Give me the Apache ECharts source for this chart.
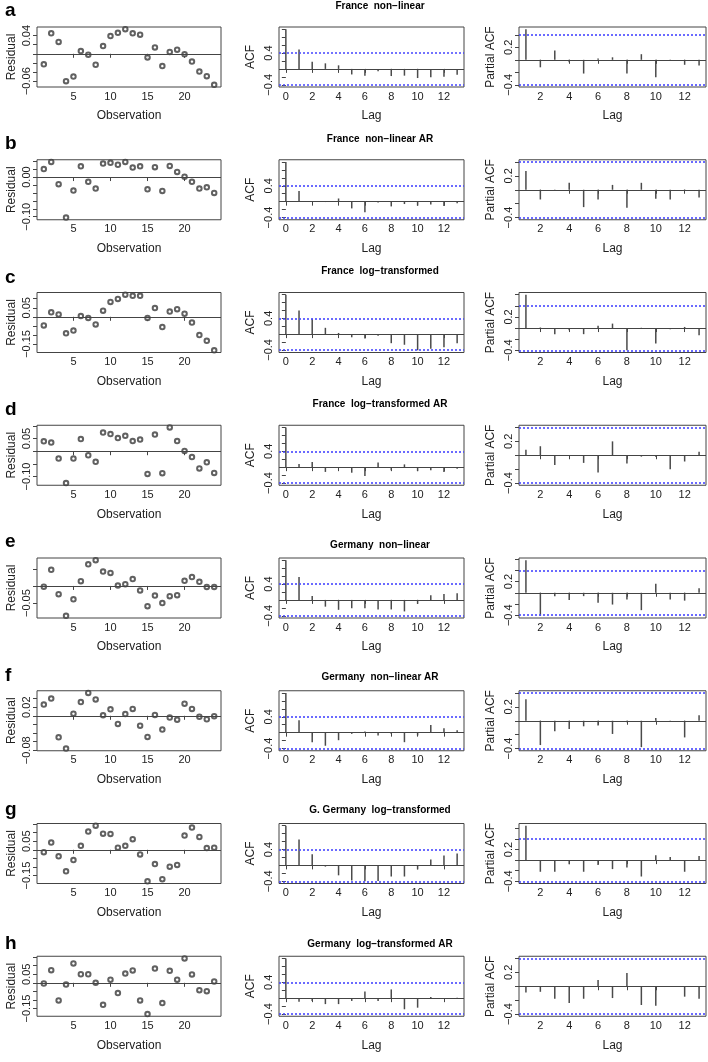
<!DOCTYPE html>
<html><head><meta charset="utf-8">
<script src="https://cdn.jsdelivr.net/npm/echarts@6/dist/echarts.min.js"></script>
<style>html,body{margin:0;padding:0;background:#fff}#c{width:708px;height:1062px}</style>
</head><body><div id="c"></div>
<script>
// ---------------- DATA ----------------
const panelLetters = ['a','b','c','d','e','f','g','h'];
const panelTitles = [
  'France  non\u2212linear',
  'France  non\u2212linear AR',
  'France  log\u2212transformed',
  'France  log\u2212transformed AR',
  'Germany  non\u2212linear',
  'Germany  non\u2212linear AR',
  'G. Germany  log\u2212transformed',
  'Germany  log\u2212transformed AR'
];
const observations = [1,2,3,4,5,6,7,8,9,10,11,12,13,14,15,16,17,18,19,20,21,22,23,24];
const acfLags  = [0,1,2,3,4,5,6,7,8,9,10,11,12,13];
const pacfLags = [1,2,3,4,5,6,7,8,9,10,11,12,13];

const resA = [-0.023,0.045,0.026,-0.060,-0.050,0.006,-0.002,-0.024,0.017,0.039,0.046,0.054,0.045,0.042,-0.008,0.014,-0.027,0.004,0.009,-0.001,-0.017,-0.039,-0.049,-0.068];
const resB = [0.020,0.038,-0.018,-0.102,-0.034,0.027,-0.012,-0.029,0.034,0.036,0.031,0.038,0.024,0.027,-0.031,0.025,-0.035,0.028,0.013,0.001,-0.012,-0.029,-0.026,-0.040];
const resC = [-0.048,0.025,0.013,-0.091,-0.076,0.004,-0.006,-0.042,0.034,0.082,0.099,0.122,0.116,0.116,-0.006,0.048,-0.057,0.029,0.042,0.017,-0.032,-0.101,-0.133,-0.185];
const resD = [0.039,0.034,-0.029,-0.126,-0.029,0.048,-0.016,-0.042,0.074,0.068,0.052,0.061,0.040,0.046,-0.090,0.066,-0.087,0.094,0.040,0.001,-0.023,-0.068,-0.044,-0.086];
const resE = [-0.002,0.047,-0.024,-0.087,-0.039,0.014,0.063,0.075,0.042,0.038,0.001,0.005,0.020,-0.013,-0.059,-0.028,-0.050,-0.030,-0.027,0.015,0.026,0.012,-0.003,-0.003];
const resF = [0.026,0.040,-0.050,-0.076,0.005,0.032,0.053,0.038,0.001,0.015,-0.019,0.004,0.016,-0.023,-0.049,0.002,-0.032,-0.004,-0.009,0.028,0.016,-0.002,-0.008,-0.001];
const resG = [-0.014,0.042,-0.038,-0.125,-0.060,0.023,0.106,0.140,0.094,0.092,0.012,0.023,0.062,-0.027,-0.183,-0.083,-0.171,-0.098,-0.088,0.083,0.129,0.075,0.010,0.012];
const resH = [-0.004,0.074,-0.103,-0.010,0.113,0.050,0.050,0.000,-0.128,0.018,-0.060,0.054,0.072,-0.103,-0.182,0.083,-0.118,0.070,0.018,0.142,0.049,-0.043,-0.049,0.008];

const acfA = [1,0.49,0.18,0.14,0.09,-0.14,-0.17,-0.06,-0.18,-0.17,-0.23,-0.21,-0.20,-0.15];
const acfB = [1,0.27,-0.01,-0.01,0.08,-0.17,-0.27,-0.02,-0.12,-0.06,-0.10,-0.07,-0.11,-0.04];
const acfC = [1,0.60,0.39,0.16,0.03,-0.08,-0.11,-0.04,-0.23,-0.27,-0.41,-0.37,-0.33,-0.23];
const acfD = [1,0.08,0.13,-0.12,-0.01,-0.14,-0.22,0.12,-0.08,0.07,-0.10,-0.08,-0.12,-0.04];
const acfE = [1,0.58,0.10,-0.17,-0.25,-0.21,-0.21,-0.24,-0.24,-0.29,-0.10,0.12,0.15,0.17];
const acfF = [1,0.31,-0.24,-0.33,-0.19,-0.03,0.03,-0.07,-0.03,-0.24,-0.07,0.19,0.11,0.06];
const acfG = [1,0.65,0.28,-0.03,-0.25,-0.38,-0.40,-0.39,-0.28,-0.28,-0.10,0.15,0.25,0.30];
const acfH = [1,-0.09,-0.07,-0.15,-0.15,-0.07,0.17,-0.07,0.22,-0.28,-0.24,0.03,-0.02,0.01];

const pacfA = [0.49,-0.12,0.15,-0.04,-0.22,0.02,0.04,-0.22,0.09,-0.28,-0.01,-0.08,-0.09];
const pacfB = [0.27,-0.14,-0.01,0.10,-0.25,-0.14,0.07,-0.26,0.10,-0.13,-0.14,0.005,-0.11];
const pacfC = [0.60,0.01,-0.11,-0.04,-0.11,0.04,0.08,-0.40,0.005,-0.28,-0.02,0.02,-0.13];
const pacfD = [0.08,0.13,-0.14,-0.01,-0.11,-0.25,0.20,-0.12,-0.02,-0.02,-0.20,-0.09,0.05];
const pacfE = [0.58,-0.41,-0.06,-0.13,-0.06,-0.18,-0.21,-0.12,-0.31,0.16,-0.12,-0.14,0.08];
const pacfF = [0.31,-0.35,-0.15,-0.12,-0.08,-0.07,-0.19,-0.02,-0.38,0.04,-0.01,-0.24,0.08];
const pacfG = [0.65,-0.22,-0.22,-0.08,-0.22,-0.09,-0.17,-0.14,-0.31,0.09,0.06,-0.22,0.08];
const pacfH = [-0.09,-0.08,-0.18,-0.24,-0.18,0.09,-0.17,0.19,-0.27,-0.28,-0.003,-0.15,-0.18];

// tick values / labelled tick values
const obsTicks = [5,10,15,20];
const acfLagTicks = [0,2,4,6,8,10,12];
const pacfLagTicks = [2,4,6,8,10,12];
const resTickSteps = [0.02,0.02,0.05,0.05,0.05,0.02,0.05,0.05];
const resTickLabels = [[-0.06,0.04],[-0.10,0.00],[-0.15,0.05],[-0.10,0.05],[-0.05],[-0.08,0.02],[-0.15,0.05],[-0.15,0.05]];
const acfTickValues = [-0.6,-0.4,-0.2,0,0.2,0.4,0.6,0.8,1.0];
const acfTickLabels = [-0.4,0.4];
const pacfTickValues = [-0.6,-0.4,-0.2,0,0.2,0.4,0.6,0.8];
const pacfTickLabels = [-0.4,0.2];
const ciBound = 0.4;   // 1.96/sqrt(24)

const residualSets = [resA,resB,resC,resD,resE,resF,resG,resH];
const acfSets = [acfA,acfB,acfC,acfD,acfE,acfF,acfG,acfH];
const pacfSets = [pacfA,pacfB,pacfC,pacfD,pacfE,pacfF,pacfG,pacfH];

// ---------------- LAYOUT ----------------
const FONT = '"Liberation Sans", Arial, Helvetica, sans-serif';
const INK = '#222';
const LINE = '#444';
const BLUE = '#4646ff';
const ROW_H = 1062 / 8;
const GRID_TOP = 27, GRID_H = 60;
const LETTER_DY = [11, 11, 12, 12, 11, 12, 13, 15];
const TITLE_DY  = [6, 6, 6, 6, 14, 13, 14, 15];
const COL = { res:{left:37,width:184}, acf:{left:279,width:185}, pacf:{left:519,width:187} };

function padRange(lo, hi){ const d = (hi - lo) * 0.04; return [lo - d, hi + d]; }
function fmt(v, dec){ const s = Math.abs(v).toFixed(dec); return (v < -1e-9 ? '\u2212' : '') + s; }
function within(vals, r){ return vals.filter(v => v >= r[0] - 1e-9 && v <= r[1] + 1e-9); }
function stepTicks(step, r){
  const out = []; let k = Math.ceil((r[0] - 1e-9) / step);
  while (k * step <= r[1] + 1e-9) { out.push(+(k * step).toFixed(4)); k++; }
  return out;
}

const grids = [], xAxes = [], yAxes = [], series = [], graphics = [];

function xAxisCfg(gi, range, ticks, name){
  return {
    gridIndex: gi, type: 'value', min: range[0], max: range[1],
    axisLine: { show: false },
    axisTick: { show: true, customValues: ticks, length: 4, lineStyle: { color: LINE, width: 1 } },
    axisLabel: { customValues: ticks, margin: 4, fontSize: 11, color: INK, fontFamily: FONT },
    splitLine: { show: false },
    name: name, nameLocation: 'middle', nameGap: 23,
    nameTextStyle: { fontSize: 12, color: INK, fontFamily: FONT }
  };
}
function yAxisCfg(gi, range, ticks, labels, dec, name, gap){
  return {
    gridIndex: gi, type: 'value', min: range[0], max: range[1],
    axisLine: { show: false },
    axisTick: { show: true, customValues: ticks, length: 4, lineStyle: { color: LINE, width: 1 } },
    axisLabel: { customValues: labels, rotate: 90, margin: 5, fontSize: 11, color: INK, fontFamily: FONT,
                 formatter: v => fmt(v, dec) },
    splitLine: { show: false },
    name: name, nameLocation: 'middle', nameRotate: 90, nameGap: gap,
    nameTextStyle: { fontSize: 12, color: INK, fontFamily: FONT }
  };
}
function zeroLine(){
  return { silent: true, symbol: 'none', label: { show: false }, animation: false,
           lineStyle: { color: LINE, width: 1, type: 'solid' }, data: [{ yAxis: 0 }] };
}
function ciSeries(gi){
  return {
    type: 'scatter', xAxisIndex: gi, yAxisIndex: gi, data: [], silent: true,
    markLine: { silent: true, symbol: 'none', label: { show: false }, animation: false,
                lineStyle: { color: BLUE, width: 1.6, type: [2, 2], opacity: 1 },
                data: [{ yAxis: ciBound }, { yAxis: -ciBound }] }
  };
}

for (let i = 0; i < 8; i++) {
  const top = i * ROW_H;
  const res = residualSets[i], acf = acfSets[i], pacf = pacfSets[i];

  // --- residual panel
  let gi = grids.length;
  grids.push({ left: COL.res.left, width: COL.res.width, top: top + GRID_TOP, height: GRID_H,
               show: true, borderColor: LINE, borderWidth: 1, backgroundColor: 'transparent' });
  const yr = padRange(Math.min(...res), Math.max(...res));
  xAxes.push(xAxisCfg(gi, padRange(observations[0], observations[observations.length-1]), obsTicks, 'Observation'));
  yAxes.push(yAxisCfg(gi, yr, stepTicks(resTickSteps[i], yr), resTickLabels[i], 2, 'Residual', 19));
  series.push({
    type: 'scatter', xAxisIndex: gi, yAxisIndex: gi,
    data: observations.map((o, k) => [o, res[k]]),
    symbol: 'emptyCircle', symbolSize: 4.5,
    itemStyle: { color: '#3a3a3a', borderWidth: 0.7 },
    markLine: zeroLine()
  });

  // --- ACF panel
  gi = grids.length;
  grids.push({ left: COL.acf.left, width: COL.acf.width, top: top + GRID_TOP, height: GRID_H,
               show: true, borderColor: LINE, borderWidth: 1, backgroundColor: 'transparent' });
  const ar = padRange(Math.min(-ciBound, ...acf), Math.max(ciBound, ...acf));
  xAxes.push(xAxisCfg(gi, padRange(acfLags[0], acfLags[acfLags.length-1]), acfLagTicks, 'Lag'));
  yAxes.push(yAxisCfg(gi, ar, within(acfTickValues, ar), acfTickLabels, 1, 'ACF', 22));
  series.push({
    type: 'bar', xAxisIndex: gi, yAxisIndex: gi, barWidth: 1.5,
    data: acfLags.map((l, k) => [l, acf[k]]),
    itemStyle: { color: '#4a4a4a' }, markLine: zeroLine()
  });
  series.push(ciSeries(gi));

  // --- PACF panel
  gi = grids.length;
  grids.push({ left: COL.pacf.left, width: COL.pacf.width, top: top + GRID_TOP, height: GRID_H,
               show: true, borderColor: LINE, borderWidth: 1, backgroundColor: 'transparent' });
  const pr = padRange(Math.min(-ciBound, ...pacf), Math.max(ciBound, ...pacf));
  xAxes.push(xAxisCfg(gi, padRange(pacfLags[0], pacfLags[pacfLags.length-1]), pacfLagTicks, 'Lag'));
  yAxes.push(yAxisCfg(gi, pr, within(pacfTickValues, pr), pacfTickLabels, 1, 'Partial ACF', 22));
  series.push({
    type: 'bar', xAxisIndex: gi, yAxisIndex: gi, barWidth: 1.5,
    data: pacfLags.map((l, k) => [l, pacf[k]]),
    itemStyle: { color: '#4a4a4a' }, markLine: zeroLine()
  });
  series.push(ciSeries(gi));

  // --- letter and title
  graphics.push({ type: 'text', x: 5, y: top + LETTER_DY[i],
    style: { text: panelLetters[i], fontSize: 19, fontWeight: 'bold', fontFamily: FONT, fill: '#000',
             align: 'left', verticalAlign: 'middle' } });
  graphics.push({ type: 'text', x: 380, y: top + TITLE_DY[i],
    style: { text: panelTitles[i], fontSize: 10, fontWeight: 'bold', fontFamily: FONT, fill: '#000',
             align: 'center', verticalAlign: 'middle' } });
}

const chart = echarts.init(document.getElementById('c'), null, { renderer: 'canvas', width: 708, height: 1062 });
chart.setOption({
  animation: false,
  backgroundColor: '#fff',
  textStyle: { fontFamily: FONT },
  grid: grids, xAxis: xAxes, yAxis: yAxes, series: series,
  graphic: graphics
});
</script>
</body></html>
